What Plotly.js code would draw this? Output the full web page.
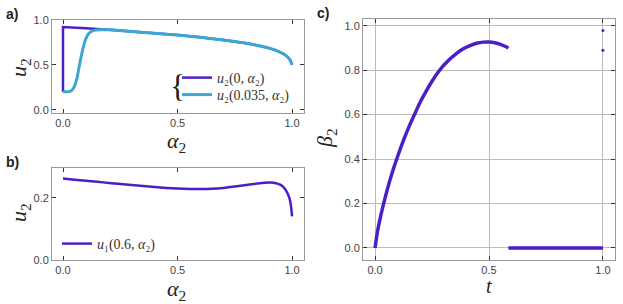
<!DOCTYPE html>
<html><head><meta charset="utf-8">
<script src="https://cdn.plot.ly/plotly-3.0.1.min.js"></script>
<style>html,body{margin:0;padding:0;background:#fff}</style>
</head><body><div id="chart" style="width:623px;height:304px"></div>
<script>
// Panel a: u2(0, alpha2)
const alphaA0 = [0, 0, 0.1, 0.2, 0.3, 0.4, 0.5, 0.6, 0.7, 0.8, 0.85, 0.9, 0.94, 0.97, 0.99, 1.0];
const uA0     = [0.2, 0.92, 0.905, 0.89, 0.87, 0.85, 0.83, 0.805, 0.775, 0.74, 0.715, 0.685, 0.65, 0.61, 0.56, 0.5];
// Panel a: u2(0.035, alpha2)
const alphaA1 = [0, 0.02, 0.03, 0.04, 0.05, 0.06, 0.07, 0.08, 0.09, 0.10, 0.11, 0.12, 0.14, 0.16, 0.18, 0.2, 0.3, 0.4, 0.5, 0.6, 0.7, 0.8, 0.85, 0.9, 0.94, 0.97, 0.99, 1.0];
const uA1     = [0.2, 0.2, 0.205, 0.22, 0.26, 0.34, 0.47, 0.6, 0.71, 0.79, 0.84, 0.865, 0.885, 0.89, 0.89, 0.89, 0.87, 0.85, 0.83, 0.805, 0.775, 0.74, 0.715, 0.685, 0.65, 0.61, 0.56, 0.5];
// Panel b: u1(0.6, alpha2)
const alphaB = [0, 0.05, 0.1, 0.15, 0.2, 0.25, 0.3, 0.35, 0.4, 0.45, 0.5, 0.55, 0.6, 0.65, 0.7, 0.75, 0.8, 0.85, 0.88, 0.9, 0.92, 0.94, 0.95, 0.96, 0.97, 0.98, 0.99, 0.995, 1.0];
const uB     = [0.262, 0.2585, 0.255, 0.2515, 0.248, 0.2445, 0.241, 0.2377, 0.2347, 0.232, 0.2299, 0.2285, 0.2282, 0.2293, 0.232, 0.2362, 0.2412, 0.2458, 0.2482, 0.2491, 0.2485, 0.245, 0.2415, 0.236, 0.228, 0.215, 0.195, 0.175, 0.14];
// Panel c: beta2(t)
const tC1    = [0, 0.01, 0.025, 0.05, 0.075, 0.1, 0.125, 0.15, 0.175, 0.2, 0.225, 0.25, 0.275, 0.3, 0.325, 0.35, 0.375, 0.4, 0.425, 0.45, 0.475, 0.49, 0.5, 0.525, 0.55, 0.575, 0.585];
const betaC1 = [0, 0.071, 0.146, 0.249, 0.338, 0.415, 0.485, 0.548, 0.605, 0.66, 0.707, 0.75, 0.788, 0.82, 0.847, 0.869, 0.888, 0.903, 0.914, 0.922, 0.926, 0.927, 0.9267, 0.923, 0.916, 0.905, 0.899];
const tC2    = [0.585, 1.0];
const betaC2 = [0, 0];
const tC3    = [1.0, 1.0];
const betaC3 = [0.978, 0.89];
// Tick labels
const tickA = [0, 0.5, 1.0];
const tickBy = [0, 0.2];
const tickCy = [0, 0.2, 0.4, 0.6, 0.8, 1.0];

const PURPLE = '#4a1fc6', CYAN = '#3ba8d2';
const SERIF = 'Liberation Serif, DejaVu Serif, serif';
const SANS = 'Liberation Sans, Arial, sans-serif';

const traces = [
  {x: alphaA0, y: uA0, xaxis: 'x', yaxis: 'y', mode: 'lines', line: {color: PURPLE, width: 2.5, simplify: false},
   name: '<i>u</i>₂(0, <i>α</i>₂)', legend: 'legend'},
  {x: alphaA1, y: uA1, xaxis: 'x', yaxis: 'y', mode: 'lines', line: {color: CYAN, width: 3, shape: 'spline', smoothing: 0.6, simplify: false},
   name: '<i>u</i>₂(0.035, <i>α</i>₂)', legend: 'legend3'},
  {x: alphaB, y: uB, xaxis: 'x2', yaxis: 'y2', mode: 'lines', line: {color: PURPLE, width: 2.5, shape: 'spline', smoothing: 0.8, simplify: false},
   name: '<i>u</i>₁(0.6, <i>α</i>₂)', legend: 'legend2'},
  {x: tC1, y: betaC1, xaxis: 'x3', yaxis: 'y3', mode: 'lines', line: {color: PURPLE, width: 3.5, shape: 'spline', smoothing: 0.8, simplify: false}, showlegend: false},
  {x: tC2, y: betaC2, xaxis: 'x3', yaxis: 'y3', mode: 'lines', line: {color: PURPLE, width: 3.5}, showlegend: false},
  {x: tC3, y: betaC3, xaxis: 'x3', yaxis: 'y3', mode: 'markers', marker: {color: PURPLE, size: 3}, showlegend: false}
];

function ax(extra) {
  return Object.assign({
    showline: true, mirror: 'ticks', linecolor: '#999', linewidth: 1,
    ticks: 'inside', ticklen: 4, tickcolor: '#333', tickwidth: 1,
    showgrid: false, zeroline: false, tickformat: '.1f',
    tickfont: {family: SANS, size: 11, color: '#444'}, fixedrange: true
  }, extra);
}
const W = 623, H = 304;
const px = v => v / W, py = v => (H - v) / H;
function ann(text, x, y, size, fam, angle) {
  return {text: text, x: px(x), y: py(y), xref: 'paper', yref: 'paper', showarrow: false,
          xanchor: 'center', yanchor: 'middle', textangle: angle || 0,
          font: {family: fam, size: size, color: '#222'}};
}
function leg(x, y) {
  return {x: px(x), xanchor: 'left', y: py(y), yanchor: 'middle', bgcolor: 'rgba(0,0,0,0)',
          font: {family: SERIF, size: 14, color: '#333'}, itemwidth: 30};
}

const layout = {
  width: W, height: H, margin: {l: 0, r: 0, t: 0, b: 0},
  paper_bgcolor: '#fff', plot_bgcolor: '#fff',
  xaxis:  ax({domain: [px(52), px(304)], anchor: 'y', range: [-0.048, 1.052], tickvals: tickA}),
  yaxis:  ax({domain: [py(113), py(19.5)], anchor: 'x', range: [-0.035, 1.003], tickvals: tickA}),
  xaxis2: ax({domain: [px(52), px(304)], anchor: 'y2', range: [-0.048, 1.052], tickvals: tickA}),
  yaxis2: ax({domain: [py(260), py(168)], anchor: 'x2', range: [0, 0.296], tickvals: tickBy}),
  xaxis3: ax({domain: [px(363), px(615)], anchor: 'y3', range: [-0.053, 1.053], tickvals: tickA,
              showgrid: true, gridcolor: '#bbb', gridwidth: 1}),
  yaxis3: ax({domain: [py(260), py(19)], anchor: 'x3', range: [-0.054, 1.03], tickvals: tickCy,
              showgrid: true, gridcolor: '#bbb', gridwidth: 1}),
  legend: leg(177, 78),
  legend3: leg(177, 95),
  legend2: leg(57, 244),
  showlegend: true,
  annotations: [
    ann('<b>a)</b>', 12, 14, 14, SANS),
    ann('<b>b)</b>', 12, 162, 14, SANS),
    ann('<b>c)</b>', 323, 13, 14, SANS),
    ann('<i>u</i><sub>2</sub>', 20, 67, 22, SERIF, -90),
    ann('<i>α</i><sub>2</sub>', 176, 142, 22, SERIF),
    ann('<i>u</i><sub>2</sub>', 20, 212, 22, SERIF, -90),
    ann('<i>α</i><sub>2</sub>', 176, 290, 22, SERIF),
    ann('<i>β</i><sub>2</sub>', 326, 138, 22, SERIF, -90),
    ann('<i>t</i>', 489, 286, 20, SERIF),
    ann('{', 177, 86, 32, SERIF)
  ]
};

Plotly.newPlot('chart', traces, layout, {displayModeBar: false, staticPlot: true});
</script>
</body></html>
